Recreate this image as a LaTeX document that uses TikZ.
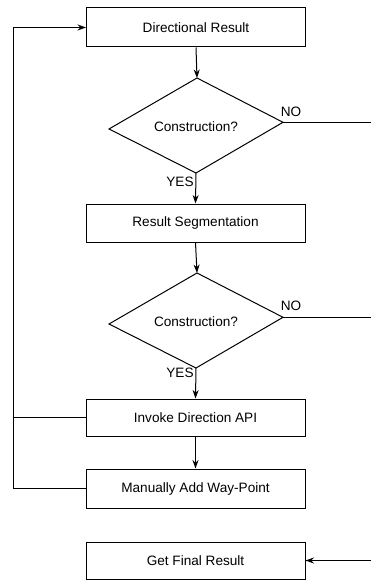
\documentclass[tikz,border=0pt]{standalone}
\usepackage{fontspec}
\setmainfont{Liberation Sans}
\usetikzlibrary{arrows.meta}
\begin{document}
\begin{tikzpicture}[x=1pt,y=1pt,
  line width=1pt,
  box/.style={draw, rectangle, minimum width=219pt, inner sep=0pt, font=\fontsize{13.6}{15}\selectfont},
  lbl/.style={font=\fontsize{13.6}{15}\selectfont, inner sep=0pt},
  arr/.style={-{Stealth[length=8.5pt,width=6pt]}}]
\useasboundingbox (0,0) rectangle (371,-580);
% boxes
\node[box, minimum height=39pt] (b1) at (196,-27.5) {Directional Result};
\node[box, minimum height=38pt] (b2) at (195.5,-223) {Result Segmentation};
\node[box, minimum height=37pt] (b3) at (195.5,-417.5) {Invoke Direction API};
\node[box, minimum height=39pt] (b4) at (195.5,-488.5) {Manually Add Way-Point};
\node[box, minimum height=37pt] (b5) at (195.5,-560.5) {Get Final Result};
% diamond 1
\coordinate (d1t) at (197,-78);
\coordinate (d1r) at (283,-122.3);
\coordinate (d1b) at (196,-173);
\coordinate (d1l) at (109,-129);
\draw (d1t) -- (d1r) -- (d1b) -- (d1l) -- cycle;
\node[lbl] (d1) at (196,-127) {Construction?};
% diamond 2
\coordinate (d2t) at (197,-273);
\coordinate (d2r) at (283,-317.3);
\coordinate (d2b) at (196,-368);
\coordinate (d2l) at (109,-324);
\draw (d2t) -- (d2r) -- (d2b) -- (d2l) -- cycle;
\node[lbl] (d2) at (196,-322) {Construction?};
% right free ends
\coordinate (e1) at (371,-122.3);
\coordinate (e2) at (371,-317.3);
\coordinate (e3) at (371,-560.5);
% left loop
\coordinate (l1) at (13,-27.5);
\coordinate (l3) at (13,-417.5);
\coordinate (l4) at (13,-488.5);
% connectors
\draw[arr] (b1.south) -- (d1t);
\draw[arr] (d1b) -- (b2.north);
\draw[arr] (b2.south) -- (d2t);
\draw[arr] (d2b) -- (b3.north);
\draw[arr] (b3.south) -- (b4.north);
\draw (d1r) -- (e1);
\draw (d2r) -- (e2);
\draw[arr] (e3) -- (b5.east);
\draw (b3.west) -- (l3);
\draw[arr] (b4.west) -- (l4) -- (l1) -- (b1.west);
% labels
\node[lbl] (no1) at (291,-112) {NO};
\node[lbl] (no2) at (291,-306) {NO};
\node[lbl] (yes1) at (180,-182) {YES};
\node[lbl] (yes2) at (180,-373) {YES};
\end{tikzpicture}
\end{document}
